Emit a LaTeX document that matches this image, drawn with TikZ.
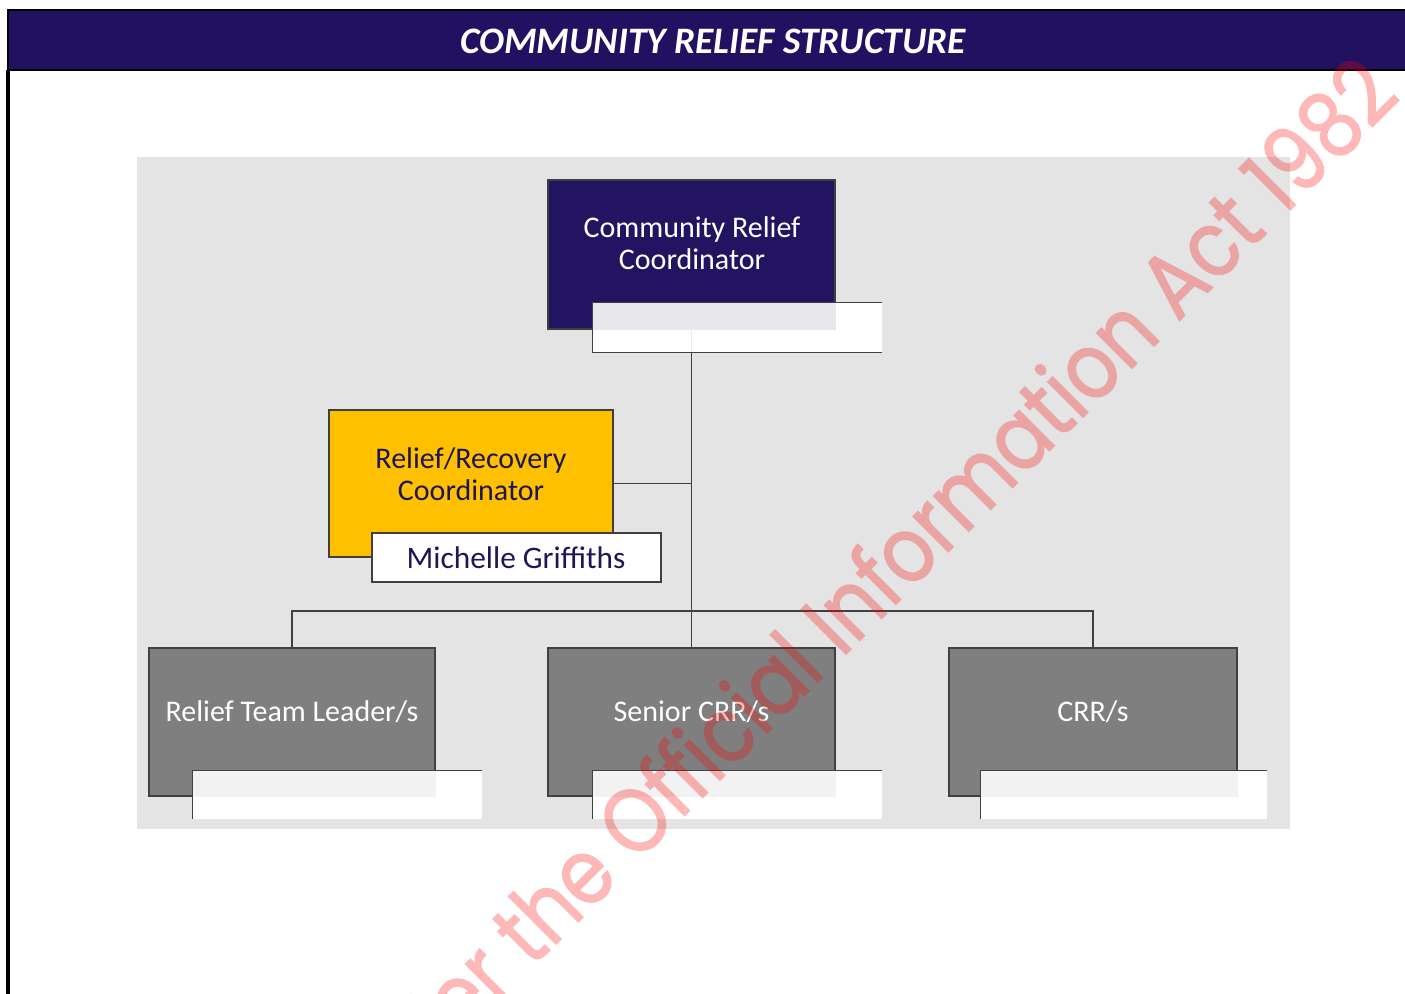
\documentclass[tikz,border=0pt]{standalone}
\usepackage{fontspec}
\setmainfont{Carlito}
\newfontfamily\wmfont[FakeBold=1.6]{Poppins}
\definecolor{barnavy}{RGB}{33,17,96}
\definecolor{boxnavy}{RGB}{35,20,98}
\definecolor{gold}{RGB}{255,192,0}
\definecolor{panel}{RGB}{228,228,228}
\definecolor{boxgray}{RGB}{127,127,127}
\definecolor{linegray}{RGB}{64,64,64}
\definecolor{txtnavy}{RGB}{30,22,90}
\definecolor{overlap}{RGB}{232,232,236}
\definecolor{overlapw}{RGB}{242,242,242}
\tikzset{
  conn/.style={draw=linegray, line width=1.3pt},
  role/.style={rectangle, draw=linegray, line width=1.1pt, inner sep=0pt},
  subbox/.style={rectangle, fill=white, draw=none, inner sep=0pt, minimum width=289*0.75pt, minimum height=48*0.75pt},
  subline/.style={draw=linegray, line width=1.1pt},
  boxtext/.style={font=\fontsize{22.5}{24}\selectfont, align=center, inner sep=0pt},
}
\begin{document}
\begin{tikzpicture}[x=0.75pt, y=-0.75pt]
\useasboundingbox (0,0) rectangle (1405,994);
\clip (0,0) rectangle (1405,994);
\fill[white] (0,0) rectangle (1405,994);
% title bar and page frame
\node[rectangle, fill=barnavy, draw=black, line width=2.2pt, minimum width=1420*0.75pt, minimum height=60*0.75pt, inner sep=0pt] (bar) at (718,40) {};
\node[text=white, font=\fontsize{28}{30}\selectfont\bfseries\itshape, inner sep=0pt] (title) at (713,41) {COMMUNITY RELIEF STRUCTURE};
\coordinate (frametop) at (8,70);
\coordinate (framebot) at (8,1000);
\draw[black, line width=2.4pt] (frametop) -- (framebot);
% panel
\fill[panel] (137,157) rectangle (1290,829);
% nodes
\node[role, fill=boxnavy, minimum width=287*0.75pt, minimum height=149*0.75pt] (crc) at (691.5,254.5) {};
\node[role, fill=gold, minimum width=284*0.75pt, minimum height=147*0.75pt] (rrc) at (471,483.5) {};
\node[role, fill=boxgray, minimum width=286*0.75pt, minimum height=148*0.75pt] (rtl) at (292,722) {};
\node[role, fill=boxgray, minimum width=287*0.75pt, minimum height=148*0.75pt] (scrr) at (691.5,722) {};
\node[role, fill=boxgray, minimum width=288*0.75pt, minimum height=148*0.75pt] (crr) at (1093,722) {};
% connectors
\coordinate (bus) at (691.5,611);
\draw[conn] (crc.south) -- (scrr.north);
\draw[conn] (rrc.east) -- (rrc.east -| crc.south);
\draw[conn] (rtl.north) |- (bus) -| (crr.north);
% sub boxes
\node[subbox, minimum height=49*0.75pt] (crcsub) at (737.5,327.5) {};
\fill[overlap] (crcsub.north west) rectangle (crc.south east);
\draw[white!85!gray, line width=0.8pt] (crcsub.south) ++(-46,0) coordinate (crcsubtick) -- (crcsubtick |- crc.south);
\draw[subline] (crcsub.north east) -- (crcsub.north west) -- (crcsub.south west) -- (crcsub.south east);

\node[rectangle, fill=white, draw=linegray, line width=1.1pt, minimum width=289*0.75pt, minimum height=49*0.75pt, inner sep=0pt] (name) at (516.5,557.5) {};

\node[subbox] (rtlsub) at (337.5,795) {};
\fill[overlapw] (rtlsub.north west) rectangle (rtl.south east);
\draw[subline] (rtlsub.north east) -- (rtlsub.north west) -- (rtlsub.south west);
\node[subbox] (scrrsub) at (737.5,795) {};
\fill[overlapw] (scrrsub.north west) rectangle (scrr.south east);
\draw[subline] (scrrsub.north east) -- (scrrsub.north west) -- (scrrsub.south west);
\node[subbox, minimum width=286*0.75pt] (crrsub) at (1124,795) {};
\fill[overlapw] (crrsub.north west) rectangle (crr.south east);
\draw[subline] (crrsub.north east) -- (crrsub.north west) -- (crrsub.south west);
% texts
\node[boxtext, text=white] (crct) at (692,243) {Community Relief\\Coordinator};
\node[boxtext, text=txtnavy] (rrct) at (471,474) {Relief/Recovery\\Coordinator};
\node[boxtext, text=txtnavy, font=\fontsize{23.5}{25}\selectfont] (namet) at (516,558) {Michelle Griffiths};
\node[boxtext, text=white] (rtlt) at (292,712) {Relief Team Leader/s};
\node[boxtext, text=white] (scrrt) at (691.5,712) {Senior CRR/s};
\node[boxtext, text=white] (crrt) at (1093,712) {CRR/s};
% watermark
\begin{scope}[transparency group, opacity=0.28]
\node[rotate=45, anchor=base east, text=red, inner sep=0pt, font=\wmfont\fontsize{68}{68}\selectfont] (wm) at (1402,98) {\scalebox{0.86}[1]{Released under the Official Information Act 1982}};
\end{scope}
\end{tikzpicture}
\end{document}
